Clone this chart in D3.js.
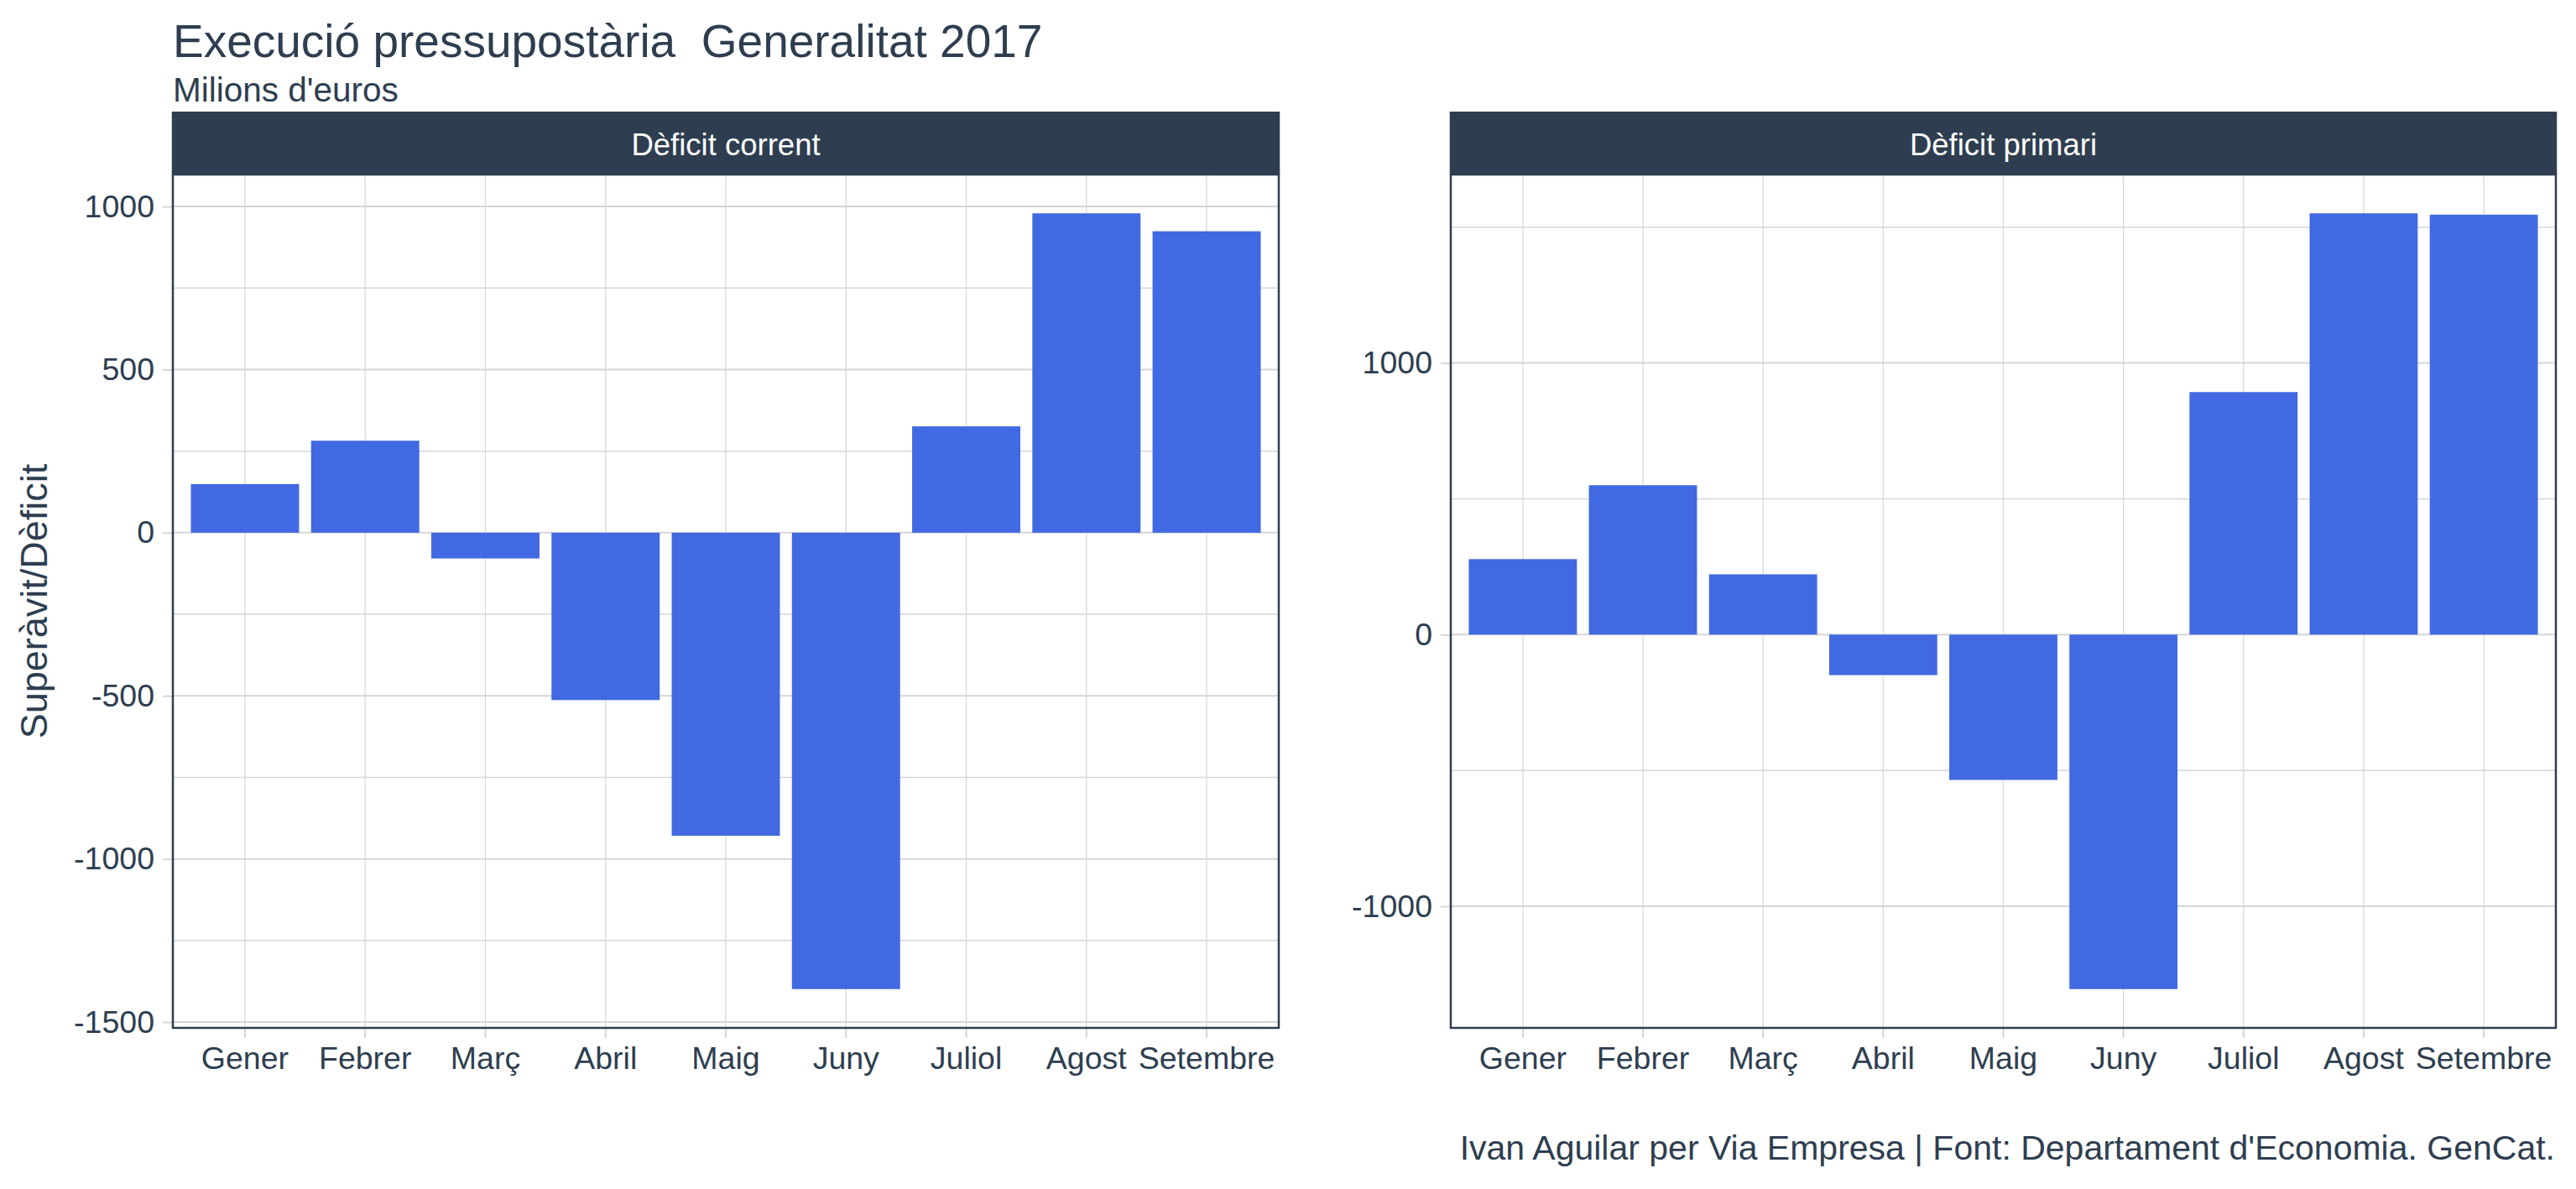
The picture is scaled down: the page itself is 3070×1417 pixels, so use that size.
<!DOCTYPE html>
<html>
<head>
<meta charset="utf-8">
<script src="https://cdn.jsdelivr.net/npm/d3@7"></script>
<style>
  html, body { margin: 0; padding: 0; background: #ffffff; }
  svg { display: block; }
  text { font-family: "Liberation Sans", Arial, sans-serif; white-space: pre; }
</style>
</head>
<body>
<svg id="chart" width="3070" height="1417"></svg>
<script>
const months = ["Gener", "Febrer", "Març", "Abril", "Maig", "Juny", "Juliol", "Agost", "Setembre"];
const deficitCorrent = [149, 282, -79, -513, -929, -1399, 326, 979, 924];
const deficitPrimari = [278, 550, 222, -149, -535, -1305, 893, 1551, 1546];
const panelTitles = ["Dèficit corrent", "Dèficit primari"];
const ticksCorrent = [-1500, -1000, -500, 0, 500, 1000];
const ticksPrimari = [-1000, 0, 1000];
const titleText = "Execució pressupostària  Generalitat 2017";
const subtitleText = "Milions d'euros";
const yTitleText = "Superàvit/Dèficit";
const captionText = "Ivan Aguilar per Via Empresa | Font: Departament d'Economia. GenCat.";

const textColor = "#2E3E50";
const stripColor = "#2E3E50";
const barColor = "#4169E1";
const gridColor = "#d6d6d6";

const svg = d3.select("#chart");

const panels = [
  { title: panelTitles[0], values: deficitCorrent, ticks: ticksCorrent, x0: 206, x1: 1524 },
  { title: panelTitles[1], values: deficitPrimari, ticks: ticksPrimari, x0: 1729, x1: 3046 }
];
const stripTop = 133, panelTop = 208, panelBottom = 1225;

panels.forEach(p => {
  const g = svg.append("g");
  const ext = d3.extent(p.values.concat([0]));
  const pad = (ext[1] - ext[0]) * 0.05;
  const y = d3.scaleLinear().domain([ext[0] - pad, ext[1] + pad]).range([panelBottom, panelTop]);
  const x = d3.scaleBand().domain(months).range([p.x0, p.x1]).paddingInner(0.1).paddingOuter(0.15);

  // minor gridlines (midway between major ticks)
  const step = p.ticks[1] - p.ticks[0];
  const d = y.domain();
  const minor = [];
  for (let v = Math.floor(d[0] / step) * step + step / 2; v <= d[1]; v += step) {
    if (v >= d[0]) minor.push(v);
  }
  g.selectAll(".minor").data(minor).enter().append("line")
    .attr("x1", p.x0).attr("x2", p.x1)
    .attr("y1", v => y(v)).attr("y2", v => y(v))
    .attr("stroke", gridColor).attr("stroke-width", 1.5);
  g.selectAll(".major").data(p.ticks).enter().append("line")
    .attr("x1", p.x0).attr("x2", p.x1)
    .attr("y1", v => y(v)).attr("y2", v => y(v))
    .attr("stroke", gridColor).attr("stroke-width", 2);
  g.selectAll(".vgrid").data(months).enter().append("line")
    .attr("x1", m => x(m) + x.bandwidth() / 2).attr("x2", m => x(m) + x.bandwidth() / 2)
    .attr("y1", panelTop).attr("y2", panelBottom)
    .attr("stroke", gridColor).attr("stroke-width", 1.2);

  // bars
  g.selectAll(".bar").data(p.values).enter().append("rect")
    .attr("x", (v, i) => x(months[i]))
    .attr("width", x.bandwidth())
    .attr("y", v => y(Math.max(0, v)))
    .attr("height", v => Math.abs(y(v) - y(0)))
    .attr("fill", barColor);

  // y axis
  const yAxis = d3.axisLeft(y).tickValues(p.ticks).tickSize(12).tickPadding(10).tickFormat(v => String(v));
  const ya = g.append("g").attr("transform", `translate(${p.x0},0)`).call(yAxis);
  ya.select(".domain").remove();
  ya.selectAll("line").attr("stroke", gridColor).attr("stroke-width", 2);
  ya.selectAll("text").attr("fill", textColor).style("font-size", "37.5px")
    .style("font-family", "'Liberation Sans', Arial, sans-serif");

  // x axis
  const xAxis = d3.axisBottom(x).tickSize(12).tickPadding(10);
  const xa = g.append("g").attr("transform", `translate(0,${panelBottom})`).call(xAxis);
  xa.select(".domain").remove();
  xa.selectAll("line").attr("stroke", gridColor).attr("stroke-width", 2);
  xa.selectAll("text").attr("fill", textColor).style("font-size", "37.5px")
    .style("font-family", "'Liberation Sans', Arial, sans-serif")
    .attr("dy", "0.71em");

  // panel border
  g.append("rect").attr("x", p.x0).attr("y", panelTop).attr("width", p.x1 - p.x0).attr("height", panelBottom - panelTop)
    .attr("fill", "none").attr("stroke", stripColor).attr("stroke-width", 2.5);

  // strip
  g.append("rect").attr("x", p.x0 - 1.25).attr("y", stripTop).attr("width", p.x1 - p.x0 + 2.5).attr("height", panelTop - stripTop)
    .attr("fill", stripColor);
  g.append("text").attr("x", (p.x0 + p.x1) / 2).attr("y", 185)
    .attr("text-anchor", "middle").attr("fill", "#ffffff").style("font-size", "36.5px")
    .text(p.title);
});

// titles
svg.append("text").attr("x", 206).attr("y", 68).attr("fill", textColor).style("font-size", "55px").text(titleText);
svg.append("text").attr("x", 206).attr("y", 121).attr("fill", textColor).style("font-size", "40.5px").text(subtitleText);
svg.append("text").attr("transform", `translate(56,${(panelTop + panelBottom) / 2}) rotate(-90)`)
  .attr("text-anchor", "middle").attr("fill", textColor).style("font-size", "45px").text(yTitleText);
svg.append("text").attr("x", 3045).attr("y", 1382).attr("text-anchor", "end").attr("fill", textColor)
  .style("font-size", "41px").text(captionText);
</script>
</body>
</html>
